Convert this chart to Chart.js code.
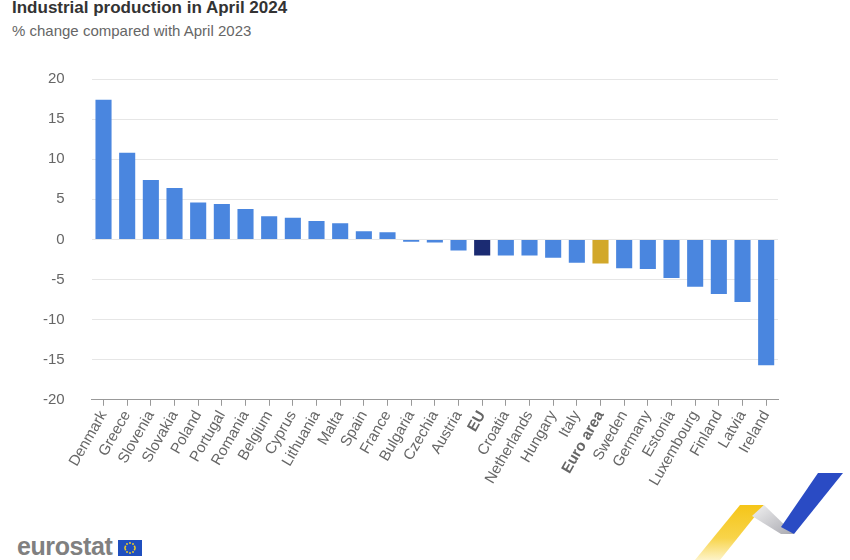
<!DOCTYPE html>
<html lang="en">
  <head>
    <meta charset="UTF-8" />
    <script src="https://cdn.jsdelivr.net/npm/chart.js"></script>
    <title>Industrial production in April 2024</title>
    <style>
      * {
        padding: 0;
        margin: 0;
        box-sizing: border-box;
      }
      body {
        width: 850px;
        height: 560px;
        background: #fff;
        font-family: 'Liberation Sans', Arial, sans-serif;
        position: relative;
        overflow: hidden;
      }
      .title {
        position: absolute;
        left: 12px;
        top: -2px;
        font-size: 17px;
        font-weight: 700;
        color: #333;
      }
      .subtitle {
        position: absolute;
        left: 12px;
        top: 22px;
        font-size: 15px;
        color: #666;
      }
      .chart-box {
        position: absolute;
        left: 0;
        top: 43px;
        width: 850px;
        height: 448px;
      }
      .logo {
        position: absolute;
        left: 17px;
        top: 532px;
        font-size: 25px;
        font-weight: 700;
        color: #808080;
        letter-spacing: -0.4px;
      }
      .deco {
        position: absolute;
        left: 0;
        top: 0;
      }
    </style>
  </head>
  <body>
    <div class="title">Industrial production in April 2024</div>
    <div class="subtitle">% change compared with April 2023</div>
    <div class="chart-box">
      <canvas id="myChart"></canvas>
    </div>
    <div class="logo">eurostat</div>
    <svg class="deco" width="850" height="560">
      <defs>
        <linearGradient id="yel" x1="0" y1="0" x2="0" y2="1">
          <stop offset="0" stop-color="#f5c518" />
          <stop offset="0.6" stop-color="#f8d44a" />
          <stop offset="1" stop-color="#fdf3c8" />
        </linearGradient>
        <linearGradient id="gry" x1="0" y1="0" x2="1" y2="1">
          <stop offset="0" stop-color="#f2f2f2" />
          <stop offset="1" stop-color="#a9a9b0" />
        </linearGradient>
      </defs>
      <!-- eu flag -->
      <rect x="118" y="540" width="24" height="16" fill="#1f4fbf" />
      <g fill="#f5d020">
        <circle cx="130" cy="543" r="0.9" />
        <circle cx="133" cy="544" r="0.9" />
        <circle cx="134.6" cy="546.5" r="0.9" />
        <circle cx="135" cy="548" r="0.9" />
        <circle cx="134.6" cy="549.5" r="0.9" />
        <circle cx="133" cy="552" r="0.9" />
        <circle cx="130" cy="553" r="0.9" />
        <circle cx="127" cy="552" r="0.9" />
        <circle cx="125.4" cy="549.5" r="0.9" />
        <circle cx="125" cy="548" r="0.9" />
        <circle cx="125.4" cy="546.5" r="0.9" />
        <circle cx="127" cy="544" r="0.9" />
      </g>
      <!-- ribbon -->
      <polygon points="740,505 764,505 720,560 695,560" fill="url(#yel)" />
      <polygon points="764,505 752,516 781,534 794,534" fill="url(#gry)" />
      <polygon points="818,473 843,473 794,534 781,527" fill="#2a4bc4" />
    </svg>
    <script>
      const countries = [
        'Denmark', 'Greece', 'Slovenia', 'Slovakia', 'Poland', 'Portugal',
        'Romania', 'Belgium', 'Cyprus', 'Lithuania', 'Malta', 'Spain',
        'France', 'Bulgaria', 'Czechia', 'Austria', 'EU', 'Croatia',
        'Netherlands', 'Hungary', 'Italy', 'Euro area', 'Sweden', 'Germany',
        'Estonia', 'Luxembourg', 'Finland', 'Latvia', 'Ireland',
      ];
      const changes = [
        17.4, 10.8, 7.4, 6.4, 4.6, 4.4, 3.8, 2.9, 2.7, 2.3, 2.0, 1.0,
        0.9, -0.3, -0.4, -1.4, -2.0, -2.0, -2.0, -2.3, -2.9, -3.0, -3.6, -3.7,
        -4.8, -5.9, -6.8, -7.8, -15.7,
      ];
      const yTicks = [-20, -15, -10, -5, 0, 5, 10, 15, 20];

      const aggregates = ['EU', 'Euro area'];
      const barColors = countries.map(function (c) {
        if (c === 'EU') return '#1b2b72';
        if (c === 'Euro area') return '#d2a82a';
        return '#4a86df';
      });

      const config = {
        type: 'bar',
        data: {
          labels: countries,
          datasets: [
            {
              data: changes,
              backgroundColor: barColors,
              barPercentage: 0.68,
              categoryPercentage: 1,
            },
          ],
        },
        options: {
          responsive: true,
          maintainAspectRatio: false,
          animation: false,
          layout: {
            padding: { left: 16, right: 72, top: 13, bottom: 0 },
          },
          plugins: {
            legend: { display: false },
            tooltip: { enabled: false },
          },
          scales: {
            x: {
              grid: {
                offset: false,
                drawOnChartArea: false,
                drawTicks: true,
                tickLength: 6,
                color: '#999',
              },
              border: { color: '#999' },
              ticks: {
                color: '#666',
                autoSkip: false,
                minRotation: 60,
                maxRotation: 60,
                padding: 2,
                font: function (ctx) {
                  const name = countries[ctx.index];
                  return {
                    family: "'Liberation Sans', Arial, sans-serif",
                    size: 15,
                    weight: aggregates.includes(name) ? 'bold' : 'normal',
                  };
                },
              },
            },
            y: {
              min: yTicks[0],
              max: yTicks[yTicks.length - 1],
              afterBuildTicks: function (axis) {
                axis.ticks = yTicks.map(function (v) {
                  return { value: v };
                });
              },
              grid: { color: '#e6e6e6', drawTicks: false },
              border: { display: false },
              ticks: {
                color: '#666',
                padding: 27,
                font: { family: "'Liberation Sans', Arial, sans-serif", size: 15 },
              },
            },
          },
        },
      };
      const myChart = new Chart(document.getElementById('myChart'), config);
    </script>
  </body>
</html>
